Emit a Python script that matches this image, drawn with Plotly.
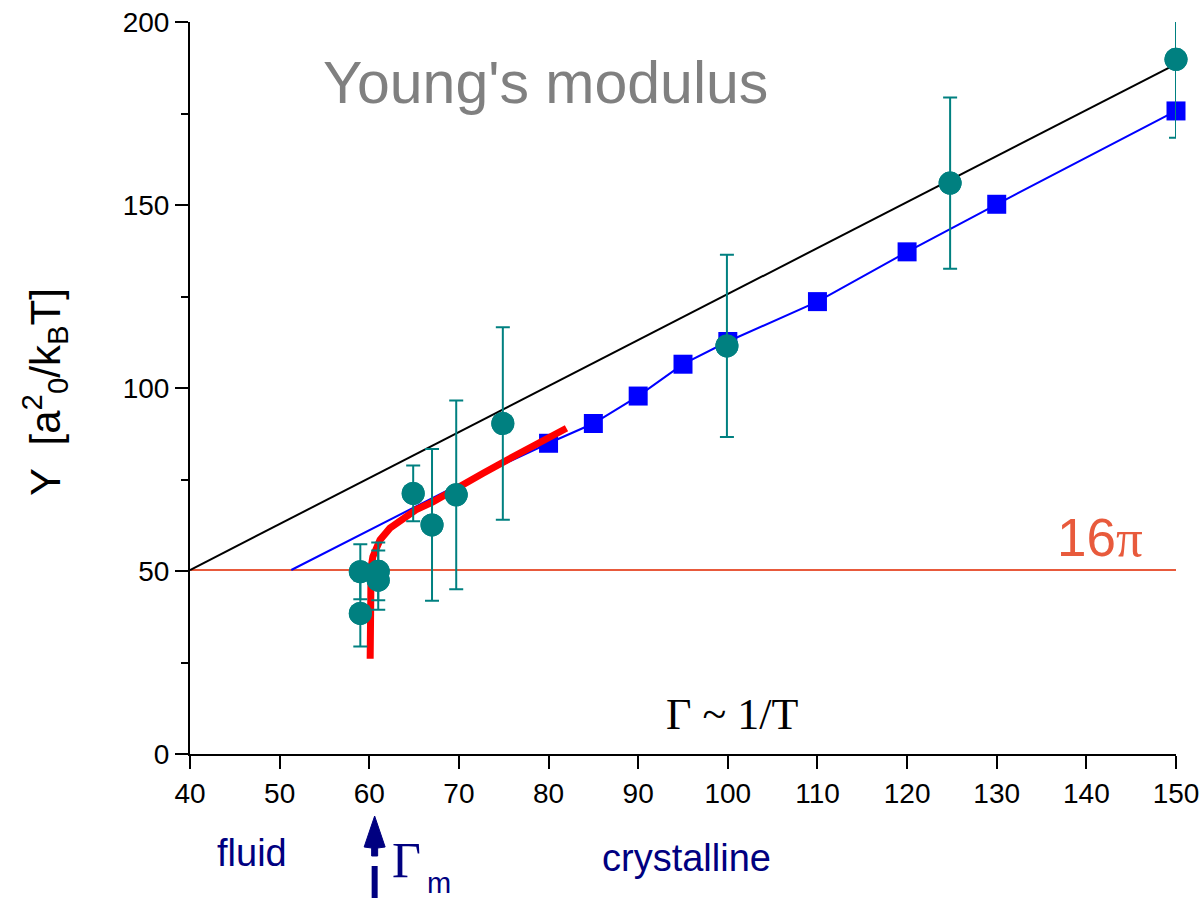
import plotly.graph_objects as go

# ---- data -------------------------------------------------------------
# simulation (blue squares)
gamma_sq = [80, 85, 90, 95, 100, 110, 120, 130, 150]
y_sq = [84.9, 90.3, 97.8, 106.5, 112.7, 123.6, 137.2, 150.2, 175.7]

# low-Gamma continuation of the blue curve
gamma_blue_low = [51.3, 69.5]
y_blue_low = [50.27, 73.0]

# experiment (teal circles with error bars)
gamma_exp = [59.0, 59.0, 61.0, 61.0, 64.9, 67.0, 69.7, 74.9, 99.9, 124.8, 150.0]
y_exp = [38.4, 49.8, 49.9, 47.5, 71.2, 62.6, 70.8, 90.3, 111.5, 156.0, 189.8]
err_exp = [9.0, 7.5, 7.9, 8.1, 7.6, 20.7, 25.8, 26.3, 24.9, 23.4, 21.4]

# renormalised Young's modulus (red curve)
gamma_red = [60.1, 60.1, 60.12, 60.2, 60.4, 60.7, 61.2, 62.3, 63.8, 65.2, 67.1,
             69.0, 72.7, 76.4, 80.1, 82.0]
y_red = [26.0, 40.0, 47.0, 51.0, 53.9, 56.0, 58.5, 61.7, 64.4, 66.7, 68.9,
         71.7, 76.7, 81.7, 86.3, 89.0]

# harmonic estimate (black line)
gamma_black = [40, 150]
y_black = [50.27, 188.5]

# 16 pi threshold
gamma_16pi = [40, 150]
y_16pi = [50.27, 50.27]

gamma_m = 60.6

X_RANGE = [40, 150]
Y_RANGE = [0, 200]

# ---- figure geometry --------------------------------------------------
W, H = 1200, 902
ML, MR, MT, MB = 190, 24, 22, 148
PW, PH = W - ML - MR, H - MT - MB


def px_x(px):
    return (px - ML) / PW


def px_y(py):
    return (H - MB - py) / PH


def data_px_x(g):
    return ML + (g - X_RANGE[0]) / (X_RANGE[1] - X_RANGE[0]) * PW


TEAL = "#008080"
BLUE = "#0000FF"
RED = "#FF0000"
ORANGE = "#E85A3C"
NAVY = "#000080"
SANS = "Liberation Sans, Arial, sans-serif"
SERIF = "Liberation Serif, Times New Roman, serif"

fig = go.Figure()

fig.add_trace(go.Scatter(x=gamma_16pi, y=y_16pi, mode="lines",
                         line=dict(color=ORANGE, width=2), hoverinfo="skip"))
fig.add_trace(go.Scatter(x=gamma_black, y=y_black, mode="lines",
                         line=dict(color="black", width=2), hoverinfo="skip"))
fig.add_trace(go.Scatter(x=gamma_blue_low + gamma_sq, y=y_blue_low + y_sq,
                         mode="lines", line=dict(color=BLUE, width=2),
                         hoverinfo="skip"))
fig.add_trace(go.Scatter(x=gamma_sq, y=y_sq, mode="markers",
                         marker=dict(symbol="square", size=19, color=BLUE),
                         cliponaxis=False))
fig.add_trace(go.Scatter(x=gamma_red, y=y_red, mode="lines",
                         line=dict(color=RED, width=7), hoverinfo="skip"))

# error bars: a bar that runs past the top of the axis is cut there without cap
ymax = Y_RANGE[1]
err_plus = []
err_minus = []
for y, e in zip(y_exp, err_exp):
    err_minus.append(e)
    err_plus.append(e if y + e <= ymax else 0.0)

fig.add_trace(go.Scatter(
    x=gamma_exp, y=y_exp, mode="markers",
    marker=dict(size=23, color=TEAL),
    error_y=dict(type="data", symmetric=False, array=err_plus,
                 arrayminus=err_minus, color=TEAL, thickness=2, width=7),
    cliponaxis=False))
for g, y, e in zip(gamma_exp, y_exp, err_exp):
    if y + e > ymax:
        fig.add_trace(go.Scatter(x=[g, g], y=[y, ymax], mode="lines",
                                 line=dict(color=TEAL, width=2),
                                 cliponaxis=False, hoverinfo="skip"))
# markers redrawn on top of the cut bars
fig.add_trace(go.Scatter(x=gamma_exp, y=y_exp, mode="markers",
                         marker=dict(size=23, color=TEAL), cliponaxis=False))

# ---- text -------------------------------------------------------------
ann = []
ann.append(dict(text="Young's modulus", x=px_x(545), y=px_y(83),
                font=dict(family=SANS, size=59, color="#808080")))
ann.append(dict(text="16<span style=\"font-family:Liberation Serif\">π</span>",
                x=px_x(1100), y=px_y(537),
                font=dict(family=SANS, size=53, color=ORANGE)))
ann.append(dict(text="Γ ~ 1/T", x=px_x(732), y=px_y(714),
                font=dict(family=SERIF, size=44, color="black")))
ann.append(dict(text="Y  [a<sup>2</sup><sub>0</sub>/k<sub>B</sub>T]",
                x=px_x(44), y=px_y(392), textangle=-90,
                font=dict(family=SANS, size=42, color="black")))
ann.append(dict(text="fluid", x=px_x(252), y=px_y(853),
                font=dict(family=SANS, size=38, color=NAVY)))
ann.append(dict(text="crystalline", x=px_x(686), y=px_y(858),
                font=dict(family=SANS, size=38, color=NAVY)))
ann.append(dict(text="Γ", x=px_x(406), y=px_y(860),
                font=dict(family=SERIF, size=50, color=NAVY)))
ann.append(dict(text="m", x=px_x(439), y=px_y(883),
                font=dict(family=SANS, size=29, color=NAVY)))
for a in ann:
    a.update(xref="paper", yref="paper", showarrow=False,
             xanchor="center", yanchor="middle")

# arrow marking the melting point
ax = data_px_x(gamma_m)
head = [(ax, 816), (ax - 10.5, 847), (ax - 3, 848), (ax - 3, 856),
        (ax + 3, 856), (ax + 3, 848), (ax + 10.5, 847)]
path = "M " + " L ".join(f"{px_x(p):.5f},{px_y(q):.5f}" for p, q in head) + " Z"
shapes = [
    dict(type="path", path=path, xref="paper", yref="paper",
         fillcolor=NAVY, line=dict(color=NAVY, width=1)),
    dict(type="line", xref="paper", yref="paper",
         x0=px_x(ax), x1=px_x(ax), y0=px_y(866), y1=px_y(898),
         line=dict(color=NAVY, width=6)),
]

axis_common = dict(showline=True, linecolor="black", linewidth=2,
                   ticks="outside", ticklen=13, tickwidth=2, tickcolor="black",
                   showgrid=False, zeroline=False, ticklabeloverflow="allow",
                   automargin=False,
                   tickfont=dict(family=SANS, size=28, color="black"))

fig.update_layout(
    width=W, height=H,
    margin=dict(l=ML, r=MR, t=MT, b=MB, pad=0, autoexpand=False),
    paper_bgcolor="white", plot_bgcolor="white",
    showlegend=False,
    xaxis=dict(range=X_RANGE, tick0=40, dtick=10, **axis_common),
    yaxis=dict(range=Y_RANGE, tick0=0, dtick=50,
               minor=dict(ticks="outside", ticklen=7, tickwidth=2,
                          tickcolor="black", dtick=25, showgrid=False),
               **axis_common),
    annotations=ann,
    shapes=shapes,
)

fig.write_html("out.html")
